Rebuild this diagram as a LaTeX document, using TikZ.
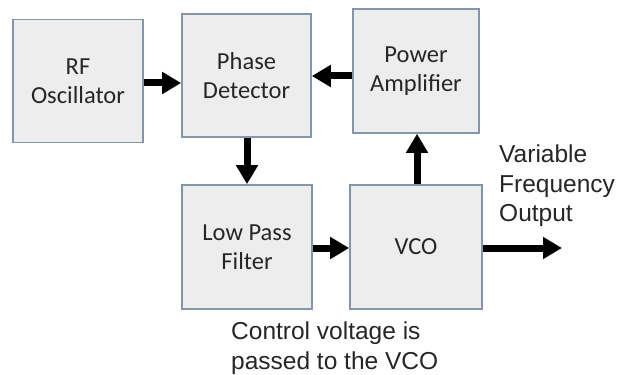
\documentclass[tikz,border=0pt]{standalone}
\usepackage{fontspec}
\setmainfont{Liberation Sans}
\newfontfamily\boxfont{Carlito}
\usetikzlibrary{arrows.meta}
\definecolor{boxfill}{HTML}{EDEDED}
\definecolor{boxedge}{HTML}{8595AE}
\tikzset{
  blockbox/.style={draw=boxedge, fill=boxfill, line width=1.6pt, align=center,
    inner sep=0pt, font=\boxfont\fontsize{24.5}{29.5}\selectfont, text=black!85},
  fatarrow/.style={line width=7pt, -{Triangle[width=21pt,length=19pt]}},
  plainlabel/.style={font=\fontsize{24.5}{29.5}\selectfont, align=left, inner sep=0pt, text=black!85}
}
\begin{document}
\begin{tikzpicture}[x=1pt,y=-1pt]
\useasboundingbox (0,0) rectangle (617,374);
\node[blockbox, minimum width=130pt, minimum height=123pt] (rf) at (78,81) {RF\\Oscillator};
\node[blockbox, minimum width=129pt, minimum height=123pt] (pd) at (246.5,75.5) {Phase\\Detector};
\node[blockbox, minimum width=126pt, minimum height=124pt] (pa) at (416,71) {Power\\Amplifier};
\node[blockbox, minimum width=130pt, minimum height=124pt] (lpf) at (247,247) {Low Pass\\Filter};
\node[blockbox, minimum width=132pt, minimum height=124pt] (vco) at (416,247) {\raisebox{-2pt}{VCO}};
\coordinate (out) at (562,248);
\node[plainlabel, anchor=north west] (vfo) at (499,145) {Variable\\Frequency\\Output};
\node[plainlabel, anchor=north west] (cv) at (231,322) {Control voltage is\\passed to the VCO};
\draw[fatarrow] (rf.east |- 0,83) -- (pd.west |- 0,83);
\draw[fatarrow] (pa.west |- 0,76) -- (pd.east |- 0,76);
\draw[fatarrow] (pd.south -| 247,0) -- (lpf.north -| 247,0);
\draw[fatarrow] (vco.north -| 417,0) -- (pa.south -| 417,0);
\draw[fatarrow] (lpf.east |- 0,248) -- (vco.west |- 0,248);
\draw[fatarrow] (vco.east |- out) -- (out);
\end{tikzpicture}
\end{document}
